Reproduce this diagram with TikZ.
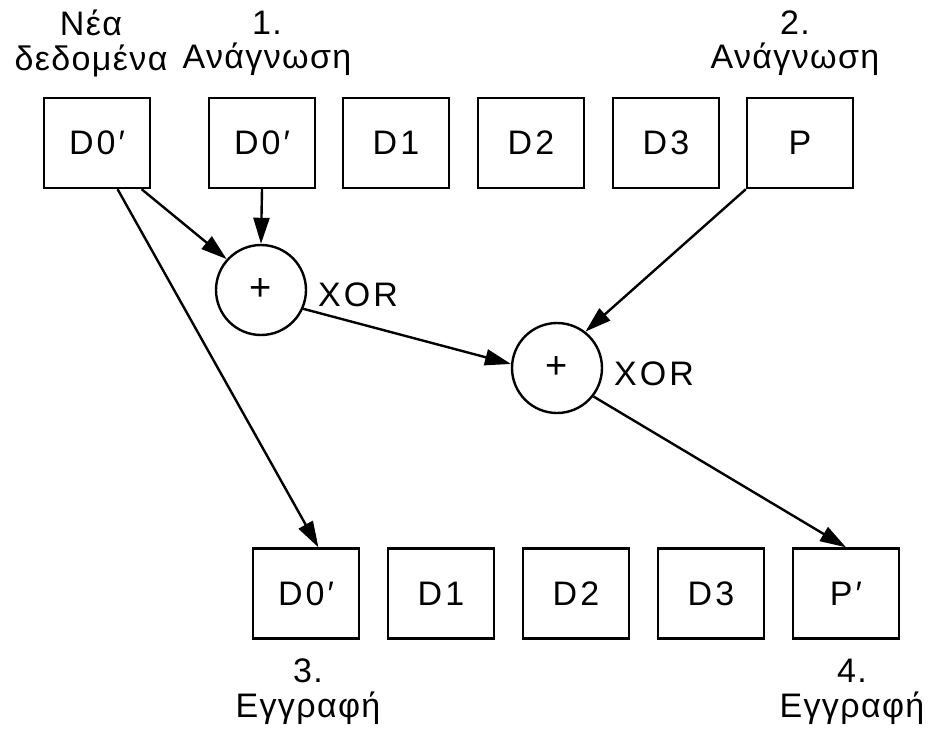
\documentclass[tikz,border=0pt]{standalone}
\usepackage{fontspec}
\setmainfont{Liberation Sans}[LetterSpace=4]
\newfontfamily\spacedfont{Liberation Sans}[LetterSpace=9]
\usetikzlibrary{arrows.meta}
\begin{document}
\begin{tikzpicture}[x=1pt,y=-1pt,
  every node/.style={font=\fontsize{34}{38}\selectfont, inner sep=0pt},
  box/.style={draw, line width=2.4pt, minimum width=106pt, minimum height=90pt, font=\fontsize{34}{38}\spacedfont},
  xorc/.style={draw, circle, line width=2.4pt, minimum size=90pt, font=\fontsize{38}{40}\selectfont},
  xorlbl/.style={anchor=base west, font=\fontsize{34}{38}\spacedfont},
  lbl/.style={anchor=base},
  arr/.style={line width=2.4pt, -{Triangle[length=26pt,width=16pt]}}]
\useasboundingbox (0,0) rectangle (931,731);
% top labels
\node[lbl] (l0a) at (91,35) {Νέα};
\node[lbl] (l0b) at (91,70) {δεδομένα};
\node[lbl] (l1a) at (267,34) {1.};
\node[lbl] (l1b) at (267,68) {Ανάγνωση};
\node[lbl] (l2a) at (795,34) {2.};
\node[lbl] (l2b) at (795,68) {Ανάγνωση};
% top row
\node[box] (n0) at (97,143) {D0′};
\node[box] (t0) at (262,143) {D0′};
\node[box] (t1) at (396,143) {D1};
\node[box] (t2) at (531,143) {D2};
\node[box] (t3) at (666,143) {D3};
\node[box] (tp) at (800,143) {P};
% XOR circles
\node[xorc] (c1) at (261,290) {+};
\node[xorc] (c2) at (557,368) {+};
\node[xorlbl] (x1) at (318,306) {XOR};
\node[xorlbl] (x2) at (614,385) {XOR};
% bottom row
\node[box] (b0) at (306,593.5) {D0′};
\node[box] (b1) at (441,593.5) {D1};
\node[box] (b2) at (576,593.5) {D2};
\node[box] (b3) at (711,593.5) {D3};
\node[box] (bp) at (846,593.5) {P′};
% bottom labels
\node[lbl] (l3a) at (308,682) {3.};
\node[lbl] (l3b) at (308,717) {Εγγραφή};
\node[lbl] (l4a) at (852,682) {4.};
\node[lbl] (l4b) at (852,717) {Εγγραφή};
% arrows
\draw[arr] (n0.-46) -- (c1.138);
\draw[arr] (n0.-66) -- (b0.75);
\draw[arr] (t0.south) -- (c1.north);
\draw[arr] (c1.-24) -- (c2.175);
\draw[arr] (tp.south west) -- (c2.52);
\draw[arr] (c2.-38) -- (bp.north);
\end{tikzpicture}
\end{document}
